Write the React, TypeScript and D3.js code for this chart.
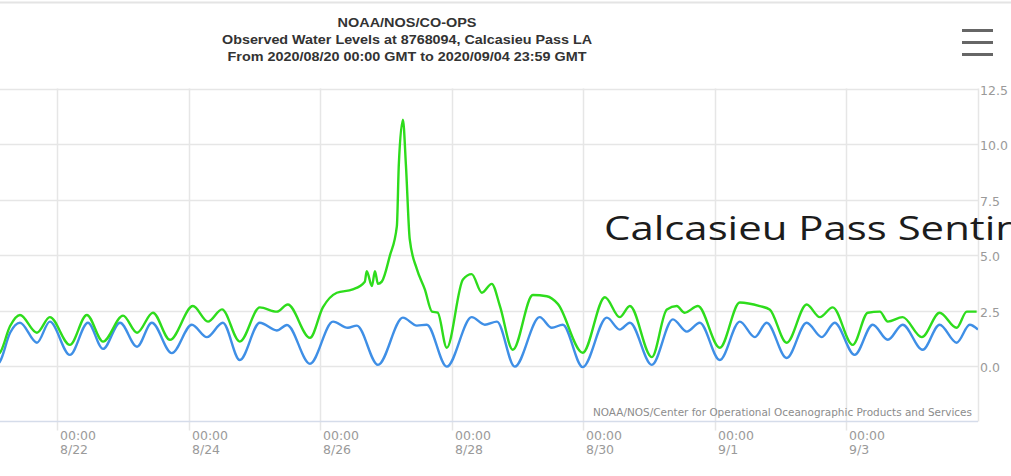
import React, { useEffect, useRef } from "react";
import * as d3 from "d3";

const startTime = "2020-08-20T00:00:00Z";
const endTime = "2020-09-05T00:00:00Z";

const titleLines = [
  "NOAA/NOS/CO-OPS",
  "Observed Water Levels at 8768094, Calcasieu Pass LA",
  "From 2020/08/20 00:00 GMT to 2020/09/04 23:59 GMT",
];
const creditText = "NOAA/NOS/Center for Operational Oceanographic Products and Services";
const overlayText = "Calcasieu Pass Sentinel";

const tickDates = [
  "2020-08-22",
  "2020-08-24",
  "2020-08-26",
  "2020-08-28",
  "2020-08-30",
  "2020-09-01",
  "2020-09-03",
];
const yTicks = [0, 2.5, 5, 7.5, 10, 12.5];

// hours after 2020/08/20 00:00 GMT -> feet, predicted tide (blue)
const predictedHours = [
  25, 27.2, 30.9, 34.5, 40.7, 45.4, 52.7, 59.3, 64.8, 71, 77.2, 82.6, 89.9, 97.2,
  102.7, 108.5, 114.7, 122, 128.2, 131.9, 140.3, 148.7, 154.1, 157.4, 165.1,
  174.2, 179.3, 182.9, 190.2, 199.3, 204.1, 208.5, 215, 224.1, 228.5, 232.5,
  239.8, 248.6, 253.3, 257, 265, 272.7, 277.8, 282.5, 289.8, 297.1, 302.6,
  306.9, 314.2, 321.5, 327, 331.7, 339, 345.6, 351.1, 356.5, 363.8, 370, 376.2,
  381, 384,
];
const predictedLevels = [
  0.0, 0.2, 1.5, 1.95, 1.05, 2.0, 0.5, 1.95, 0.77, 1.95, 0.87, 1.95, 0.58, 1.86,
  1.3, 1.95, 0.27, 1.95, 1.6, 1.85, 0.1, 2.0, 1.72, 1.82, 0.05,
  2.18, 1.82, 1.86, -0.03, 2.2, 1.86, 2.0, -0.03, 2.2, 1.72, 1.86,
  -0.05, 2.18, 1.64, 1.95, 0.05, 2.1, 1.55, 1.95, 0.27, 2.0, 1.3,
  1.95, 0.36, 1.95, 1.3, 1.95, 0.5, 1.86, 1.18, 1.86, 0.73, 1.86, 1.05,
  1.86, 1.64,
];

// observed water level (green)
const observedHours = [
  25, 27.2, 30.9, 34.5, 40.7, 45.4, 52.7, 58.9, 64.8, 72.1, 77.2, 83, 89.2,
  97.6, 103.1, 108.2, 114.7, 122, 128.2, 132.2, 140.3, 145, 150.1, 155.9, 160.3,
  161, 162.9, 164, 165.1, 166.5, 169.4, 172, 172.7, 174.2, 175.3, 176.7, 179.3,
  182.2, 184.8, 186.9, 190.2, 196.1, 199.3, 203, 206.6, 209.6, 214.3, 221.6,
  226.7, 230.7, 239.8, 247.9, 253.3, 257, 265, 270.5, 274.1, 277, 281.8, 289.8,
  297.1, 304.4, 308, 314.2, 321.5, 326.3, 331, 338.3, 343.8, 348.2, 351.1,
  356.5, 363.5, 370, 376.2, 379.9, 383.5,
];
const observedLevels = [
  0.45, 0.6, 1.8, 2.3, 1.5, 2.2, 0.95, 2.3, 1.1, 2.27, 1.5, 2.4, 1.18,
  2.7, 2.0, 2.55, 1.1, 2.64, 2.45, 2.77, 1.27, 2.64, 3.3, 3.45, 3.8,
  4.27, 3.6, 4.27, 3.7, 3.8, 4.95, 6.3, 9.05, 11.1, 9.05, 5.7, 4.36,
  3.45, 2.45, 2.4, 0.82, 3.9, 4.14, 3.3, 3.7, 2.7, 0.73, 3.2,
  3.14, 2.8, 0.6, 3.1, 2.2, 2.7, 0.4, 2.55, 2.7, 2.4, 2.7, 0.82,
  2.86, 2.7, 2.55, 1.05, 2.77, 2.2, 2.64, 0.95, 2.4, 2.45, 2.0,
  2.2, 1.3, 2.4, 1.72, 2.45, 2.45,
];

type Point = { time: Date; level: number };

const toPoints = (hours: number[], levels: number[]): Point[] => {
  const t0 = new Date(startTime).getTime();
  return hours.map((h, i) => ({ time: new Date(t0 + h * 3600e3), level: levels[i] }));
};

export default function App() {
  const svgRef = useRef<SVGSVGElement | null>(null);

  useEffect(() => {
    const width = 1011;
    const height = 476;
    // plot area; the left part of the chart is cut off in the picture
    const plot = { left: -74.6, right: 978, top: 88.5, bottom: 421.5 };

    d3.select(svgRef.current).selectAll("*").remove();
    const svg = d3.select(svgRef.current).attr("width", width).attr("height", height);

    svg.append("rect").attr("width", width).attr("height", height).attr("fill", "#fff");

    const x = d3
      .scaleUtc()
      .domain([new Date(startTime), new Date(endTime)])
      .range([plot.left, plot.right]);
    const y = d3.scaleLinear().domain([-2.5, 12.5]).range([plot.bottom, plot.top]);

    // faint frame line at the very top
    svg.append("line")
      .attr("x1", 0).attr("x2", width).attr("y1", 2.5).attr("y2", 2.5)
      .attr("stroke", "#e4e4e4").attr("stroke-width", 2);

    // horizontal grid
    svg.append("g")
      .selectAll("line")
      .data(yTicks)
      .join("line")
      .attr("x1", 0)
      .attr("x2", plot.right)
      .attr("y1", (d) => Math.round(y(d)) + 0.5)
      .attr("y2", (d) => Math.round(y(d)) + 0.5)
      .attr("stroke", "#e6e6e6")
      .attr("stroke-width", 1.5);

    // vertical grid + ticks
    const tickTimes = tickDates.map((d) => new Date(d + "T00:00:00Z"));
    svg.append("g")
      .selectAll("line")
      .data([...tickTimes, new Date(endTime)])
      .join("line")
      .attr("x1", (d) => Math.round(x(d)) + 0.5)
      .attr("x2", (d) => Math.round(x(d)) + 0.5)
      .attr("y1", plot.top)
      .attr("y2", (d, i) => (i < tickTimes.length ? plot.bottom + 9 : plot.bottom))
      .attr("stroke", "#e6e6e6")
      .attr("stroke-width", 1.5);

    // x axis line
    svg.append("line")
      .attr("x1", 0).attr("x2", plot.right)
      .attr("y1", plot.bottom).attr("y2", plot.bottom)
      .attr("stroke", "#d5dcea").attr("stroke-width", 1.5);

    // x labels
    const fmtDay = d3.utcFormat("%-m/%-d");
    const fmtTime = d3.utcFormat("%H:%M");
    const xl = svg.append("g")
      .attr("font-family", "'DejaVu Sans', Verdana, sans-serif")
      .attr("font-size", 12.5)
      .attr("fill", "#9a9a9a");
    tickTimes.forEach((t) => {
      const tx = Math.round(x(t)) + 3;
      xl.append("text").attr("x", tx).attr("y", 440).text(fmtTime(t));
      xl.append("text").attr("x", tx).attr("y", 454).text(fmtDay(t));
    });

    // y labels on the right
    svg.append("g")
      .attr("font-family", "'DejaVu Sans', Verdana, sans-serif")
      .attr("font-size", 12.5)
      .attr("fill", "#9a9a9a")
      .selectAll("text")
      .data(yTicks)
      .join("text")
      .attr("x", 980)
      .attr("y", (d) => y(d) + 6)
      .text((d) => d3.format(".1f")(d));

    // clip for series
    svg.append("clipPath")
      .attr("id", "plotClip")
      .append("rect")
      .attr("x", 0)
      .attr("y", plot.top - 5)
      .attr("width", plot.right)
      .attr("height", plot.bottom - plot.top + 5);

    const line = d3
      .line<Point>()
      .x((d) => x(d.time))
      .y((d) => y(d.level))
      .curve(d3.curveMonotoneX);

    const series = [
      { data: toPoints(predictedHours, predictedLevels), color: "#3f8fe6" },
      { data: toPoints(observedHours, observedLevels), color: "#2edc1c" },
    ];
    series.forEach((s) => {
      svg.append("path")
        .datum(s.data)
        .attr("clip-path", "url(#plotClip)")
        .attr("fill", "none")
        .attr("stroke", s.color)
        .attr("stroke-width", 2.4)
        .attr("stroke-linejoin", "round")
        .attr("d", line);
    });

    // title (the screenshot is a little stretched sideways)
    const titleWidths = [139, 370, 359];
    const title = svg.append("g")
      .attr("font-family", "'Liberation Sans', Arial, sans-serif")
      .attr("font-weight", "bold")
      .attr("fill", "#333")
      .attr("text-anchor", "middle");
    titleLines.forEach((t, i) => {
      title.append("text")
        .attr("x", 407)
        .attr("y", 27 + i * 17.2)
        .attr("font-size", 13.2)
        .attr("textLength", titleWidths[i])
        .attr("lengthAdjust", "spacingAndGlyphs")
        .text(t);
    });

    // menu icon
    [30.5, 42.5, 54.5].forEach((yy) => {
      svg.append("line")
        .attr("x1", 962).attr("x2", 993)
        .attr("y1", yy).attr("y2", yy)
        .attr("stroke", "#666").attr("stroke-width", 3);
    });

    // credits
    svg.append("text")
      .attr("x", 593)
      .attr("y", 416)
      .attr("font-family", "'DejaVu Sans', Verdana, sans-serif")
      .attr("font-size", 10)
      .attr("textLength", 379)
      .attr("lengthAdjust", "spacingAndGlyphs")
      .attr("fill", "#8c8c8c")
      .text(creditText);

    // overlay caption pasted on the image, runs off the right edge
    svg.append("text")
      .attr("transform", "translate(604,240) scale(1.31,1)")
      .attr("font-family", "'Open Sans', sans-serif")
      .attr("font-size", 32)
      .attr("fill", "#1c1c1c")
      .text(overlayText);
  }, []);

  return (
    <div style={{ position: "absolute", left: 0, top: 0, width: 1011, height: 476, overflow: "hidden" }}>
      <svg ref={svgRef} style={{ display: "block" }}></svg>
    </div>
  );
}
